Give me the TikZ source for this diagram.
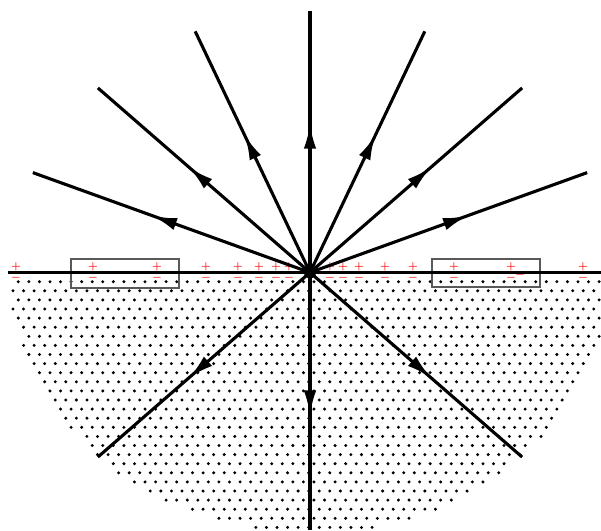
\documentclass[tikz,border=0pt]{standalone}
\usepackage{amsmath}
\usetikzlibrary{arrows.meta,decorations.markings}
\begin{document}
\begin{tikzpicture}[x=1pt,y=1pt,
  ray/.style={line width=3.1pt, postaction={decorate},
    decoration={markings, mark=at position #1 with {\arrow{Latex[length=25pt,width=12.5pt]}}}},
  ray/.default=0.57,
  surf/.style={line width=3pt},
  chg/.style={text=red, inner sep=0pt, font=\fontsize{11}{13}\selectfont},
  cbox/.style={draw=black!65, line width=1.2pt, inner sep=0pt},
  centre/.style={circle, fill=black, inner sep=0pt, minimum size=12pt},
  pt/.style={fill=black}]
\useasboundingbox (-310,-257.5) rectangle (291,272.5);
% dotted medium (half ellipse)
\foreach \k in {0,...,27}{
  \foreach \n in {0,...,56}{
    \pgfmathsetmacro\xx{-291.7 - 5.28*mod(\k,2) + 10.56*\n}
    \pgfmathsetmacro\yy{-9.2 - 9.1*\k}
    \pgfmathsetmacro\dd{(\xx/300)^2 + (\yy/261)^2}
    \ifdim\dd pt<1pt \ifdim\xx pt<290pt \fill[pt] (\xx,\yy) circle[radius=1.65]; \fi\fi
  }
}
% boxes
\node[cbox, minimum width=108pt, minimum height=29pt] (bl) at (-185,-1) {};
\node[cbox, minimum width=108pt, minimum height=28pt] (br) at (176,-0.5) {};
% coordinates
\coordinate (O) at (0,0);
\coordinate (L) at (-302,0);
\coordinate (R) at (291,0);
\foreach \i/\a in {1/22.5,2/45,3/67.5,4/90,5/112.5,6/135,7/157.5,8/225,9/315}
  \coordinate (e\i) at (\a:300 and 261);
\coordinate (e10) at (0,-257.5);
% stray minus
\node[chg] (sm) at (210,-2.5) {$\boldsymbol{-}$};
% surface
\draw[surf] (L) -- (R);
% charges
\foreach \x [count=\j] in {-294,-217,-153,-104,-72,-51,-34,-21,20,33,49,75,103,144,201,273}{
  \node[chg] (p\j) at (\x,5.5) {$\boldsymbol{+}$};
  \node[chg] (m\j) at (\x,-5.5) {$\boldsymbol{-}$};
}
% rays
\foreach \i in {1,...,9}
  \draw[ray] (O) -- (e\i);
\draw[ray=0.555] (O) -- (e10);
\node[centre] (Od) at (O) {};
\end{tikzpicture}
\end{document}
